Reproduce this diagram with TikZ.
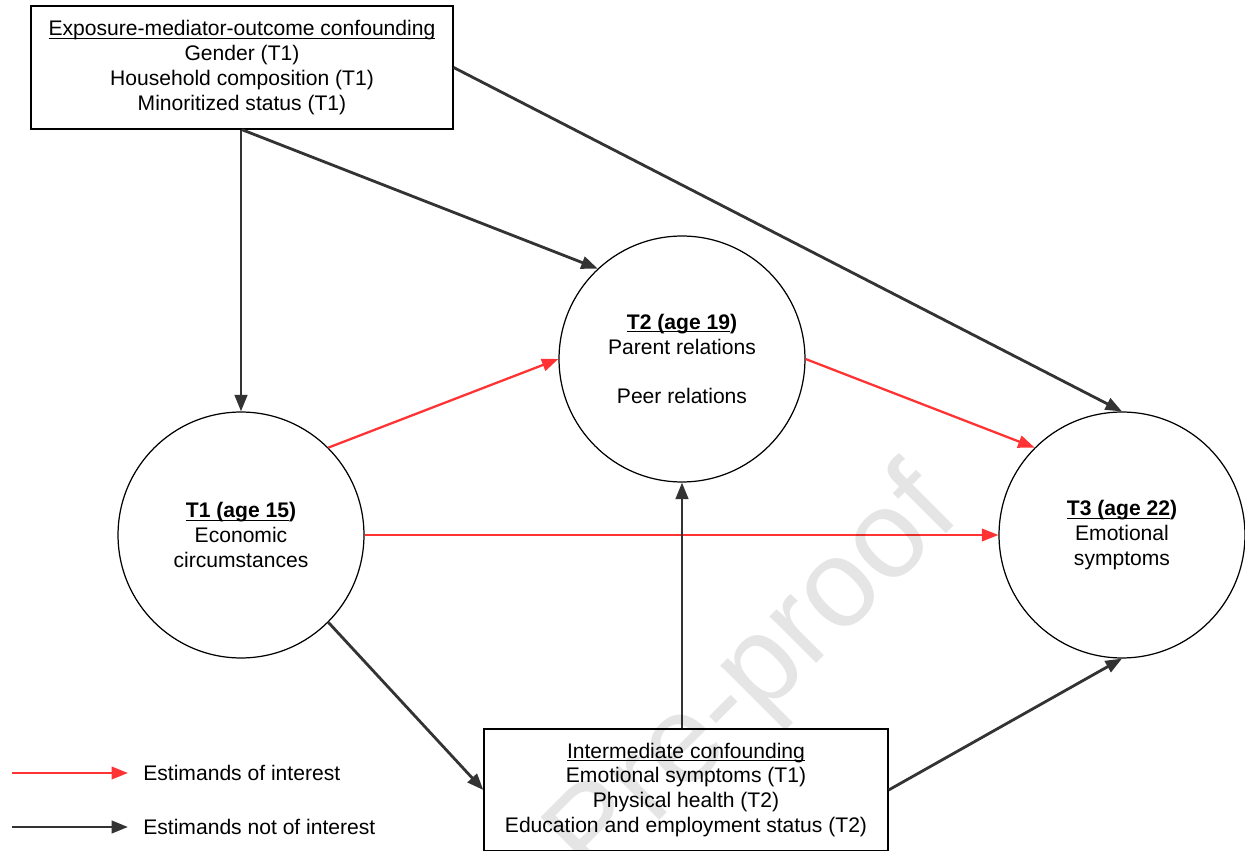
\documentclass[tikz,border=0pt]{standalone}
\usepackage{fontspec}
\setmainfont{Liberation Sans}
\usetikzlibrary{arrows.meta}
\newsavebox{\ulbox}
\newcommand{\myul}[1]{\leavevmode\sbox{\ulbox}{#1}\rlap{\rule[-1.8pt]{\wd\ulbox}{0.5pt}}\usebox{\ulbox}}
\definecolor{redline}{HTML}{FF3333}
\definecolor{darkline}{HTML}{333333}
\begin{document}
\begin{tikzpicture}[x=0.02cm,y=-0.02cm,
  txt/.style={font=\fontsize{12}{14.2}\selectfont, align=center, text=black},
  circ/.style={txt, draw=black, line width=0.7pt, circle, minimum size=4.92cm, inner sep=0pt, fill=white},
  box/.style={txt, draw=black, line width=0.8pt, rectangle, inner sep=0pt, fill=white},
  redarrow/.style={draw=redline, line width=1.3pt, -{Triangle[length=0.33cm,width=0.25cm]}},
  blackarrow/.style={draw=darkline, line width=1.6pt, -{Triangle[length=0.33cm,width=0.25cm]}},
  legtxt/.style={font=\fontsize{12}{14.2}\selectfont, anchor=west, inner sep=0pt, text=black}
]
\useasboundingbox (0,0) rectangle (1245,851);

% nodes
\node[box, minimum width=8.44cm, minimum height=2.46cm] (conf) at (242,67.5)
  {\myul{Exposure-mediator-outcome confounding}\\Gender (T1)\\Household composition (T1)\\Minoritized status (T1)};
\node[circ] (t1) at (241,535)
  {\textbf{\myul{T1 (age 15})}\\Economic\\circumstances};
\node[circ] (t2) at (682,359)
  {\textbf{\myul{T2 (age 19})}\\Parent relations\\[14.2pt]Peer relations};
\node[circ] (t3) at (1122,535)
  {\textbf{\myul{T3 (age 22})}\\Emotional\\symptoms};
\node[box, minimum width=8.08cm, minimum height=2.44cm] (inter) at (686,790)
  {\myul{Intermediate confounding}\\Emotional symptoms (T1)\\Physical health (T2)\\Education and employment status (T2)};

% connectors
\draw[blackarrow] (conf.south -| t1.north) -- (t1.north);
\draw[blackarrow] (conf.south) -- (t2.133);
\draw[blackarrow] (conf.east) -- (t3.north);
\draw[redarrow] (t1.45) -- (t2.west);
\draw[redarrow] (t2.east) -- (t3.135);
\draw[redarrow] (t1.east) -- (t3.west);
\draw[blackarrow] (t1.-45) -- (inter.west);
\draw[blackarrow] (t2.south |- inter.north) -- (t2.south);
\draw[blackarrow] (inter.east) -- (t3.south);

% legend
\coordinate (lr0) at (12,773);
\coordinate (lr1) at (128,773);
\coordinate (lb0) at (12,827);
\coordinate (lb1) at (128,827);
\draw[redarrow] (lr0) -- (lr1);
\draw[blackarrow] (lb0) -- (lb1);
\node[legtxt] (legr) at (143,773) {Estimands of interest};
\node[legtxt] (legb) at (143,827) {Estimands not of interest};

% watermark
\node[rotate=45, anchor=base, opacity=0.1, text=black, inner sep=0pt,
  font=\fontsize{71}{71}\selectfont] (wm) at (622,858) {Journal Pre-proof};
\end{tikzpicture}
\end{document}
